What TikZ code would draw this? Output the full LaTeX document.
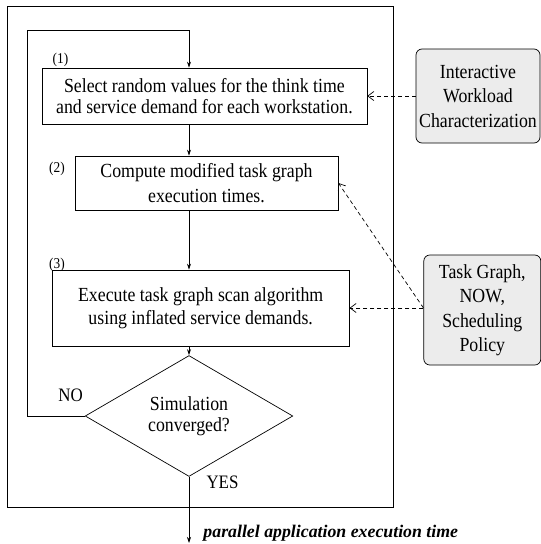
\documentclass[tikz,border=0pt]{standalone}
\usepackage{fontspec}
\setmainfont{Liberation Serif}
\newfontfamily\boxfont[FakeStretch=0.89]{Liberation Serif}
\usepackage{tikz}
\usetikzlibrary{arrows.meta}
\usetikzlibrary{shapes, shapes.geometric}
\usetikzlibrary{positioning}
\usetikzlibrary{calc}

\begin{document}
\begin{tikzpicture}[x=1pt,y=1pt,yscale=-1,xscale=1,
  stepbox/.style={draw, line width=0.7pt, align=center, inner sep=0pt, font=\boxfont\fontsize{20}{21}\selectfont},
  inbox/.style={draw, line width=0.7pt, rounded corners=6pt, fill=gray!15, align=center, inner sep=0pt, font=\boxfont\fontsize{20}{24.5}\selectfont},
  tag/.style={inner sep=0.75pt, font=\boxfont\fontsize{15}{16}\selectfont},
  answer/.style={inner sep=0.75pt, font=\boxfont\fontsize{19}{20}\selectfont},
  flow/.style={line width=0.7pt, -{Stealth[length=6pt,width=4pt]}},
  feed/.style={line width=0.7pt, dashed, dash pattern=on 4pt off 3pt, -{Straight Barb[length=6pt,width=9pt]}}]
\useasboundingbox (0,0) rectangle (541,544);

%Shape: Rectangle [outer frame]
\draw  [line width=0.7pt] (7.6,5.9) rectangle (393,507) ;

%Shape: Rectangle [steps]
\node [stepbox, minimum width=325pt, minimum height=56pt] (sel) at (204.4,96) {Select random values for the think time\\ and service demand for each workstation.};
\node [stepbox, minimum width=263pt, minimum height=54pt, font=\boxfont\fontsize{20}{25}\selectfont] (comp) at (206.5,183) {Compute modified task graph\\ execution times.};
\node [stepbox, minimum width=297pt, minimum height=76pt, font=\boxfont\fontsize{20}{23.5}\selectfont] (exec) at (200.7,308) {Execute task graph scan algorithm\\ using inflated service demands.};
%Shape: Diamond
\node [stepbox, diamond, minimum width=207.6pt, minimum height=107.7pt] (conv) at (189,416) {Simulation\\ converged?};

%Shape: Rounded Rect [inputs]
\node [inbox, minimum width=124pt, minimum height=94pt] (iwc) at (478,96) {Interactive\\ Workload\\ Characterization};
\node [inbox, minimum width=117pt, minimum height=110pt] (tg) at (482.3,310) {Task Graph,\\ NOW,\\ Scheduling\\ Policy};

% Text Node
\node [tag] (n1) at (60.5,60) {(1)};
% Text Node
\node [tag] (n2) at (57,169) {(2)};
% Text Node
\node [tag] (n3) at (57,265) {(3)};
% Text Node
\node [answer] (no) at (70.7,395.5) {NO};
% Text Node
\node [answer] (yes) at (222.5,481.8) {YES};
% Text Node
\node [anchor=base west, inner sep=0.75pt, font=\fontsize{17.8}{21}\selectfont] (res) at (202.5,537.3) {\textbf{\textit{parallel application execution time}}};

\coordinate (loop) at (27,30.4);
\coordinate (out) at (189,543);

%Straight Lines [flow]
\draw [flow] (conv.west) -| (loop) -| (sel.north -| conv.north) ;
\draw [flow] (sel.south -| conv.north) -- (comp.north -| conv.north) ;
\draw [flow] (comp.south -| conv.north) -- (exec.north -| conv.north) ;
\draw [flow] (exec.south -| conv.north) -- (conv.north) ;
\draw [flow] (conv.south) -- (out) ;

%Straight Lines [inputs]
\draw [feed] (iwc.west) -- (sel.east) ;
\draw [feed] (exec.east -| tg.west) -- (exec.east) ;
\draw [feed] (exec.east -| tg.west) -- (comp.east) ;

\end{tikzpicture}
\end{document}
